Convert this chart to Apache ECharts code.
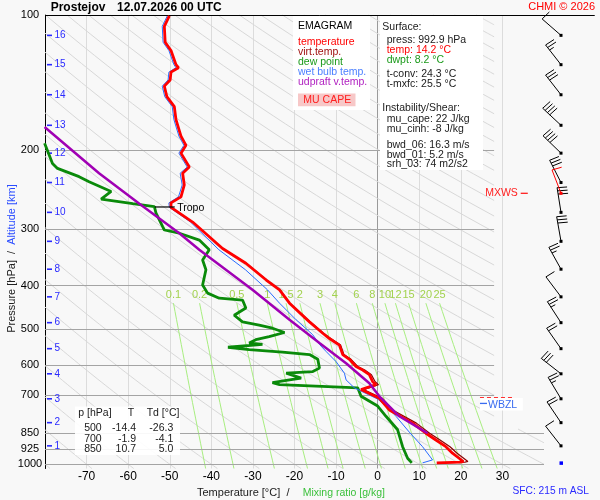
<!DOCTYPE html>
<html>
<head>
<meta charset="utf-8">
<script src="https://cdn.jsdelivr.net/npm/echarts@6/dist/echarts.min.js"></script>
<style>
html, body { margin: 0; padding: 0; background: #f8f8f8; }
#main { width: 600px; height: 500px; }
</style>
</head>
<body>
<div id="main"></div>
<script>
// ---- sounding data (pressure hPa / temperature degC) ----
var tempP = [992.9, 989, 986, 945, 914, 883, 853, 810, 757, 713, 682, 665, 655, 632, 617, 606, 584, 570, 543, 525, 511, 482, 438, 409, 389, 357, 331, 289, 268, 262, 254, 239, 225, 218, 203, 195, 186, 171, 160, 152, 144, 139.5, 134, 131, 129, 120, 115, 106, 100.5];
var tempT = [14.2, 19.8, 20.6, 18.0, 16.4, 14.0, 11.6, 8.4, 2.8, 0.4, -4.0, -0.4, -1.2, -2.0, -3.6, -5.2, -6.8, -8.4, -9.2, -11.6, -13.2, -16.4, -21.2, -23.6, -26.8, -31.7, -37.3, -44.5, -49.7, -49.7, -47.3, -46.5, -46.9, -45.3, -47.3, -46.1, -47.3, -48.5, -48.9, -50.7, -51.3, -49.9, -49.7, -47.9, -48.5, -49.7, -51.1, -51.3, -50.1];

var virtP = [992.9, 989, 986, 945, 914, 883, 853, 810, 757, 713, 682, 665, 655, 632, 617, 606, 584, 570, 543, 525, 511, 482, 438, 409, 389, 357, 331];
var virtT = [15.3, 21.0, 21.7, 19.1, 17.4, 15.0, 12.5, 9.3, 3.6, 1.1, -3.4, 0.2, -0.6, -1.5, -3.1, -4.8, -6.4, -8.1, -8.9, -11.3, -13.0, -16.2, -21.1, -23.5, -26.7, -31.6, -37.2];

var dewP = [992.9, 970, 914, 838, 782, 742, 706, 676, 674, 665, 658, 649, 643, 627, 622, 611, 584, 570, 563, 556, 549, 541, 537, 528, 520, 509, 498, 490, 482, 466, 449, 431, 427, 416, 399, 369, 351, 333, 317, 306, 301, 296, 276, 267, 263, 257, 247, 235, 229, 219.5, 214, 193];
var dewT = [8.2, 7.2, 6.0, 4.8, 2.0, 0.0, -4.0, -4.8, -7.6, -23.6, -25.3, -21.2, -18.4, -22.0, -15.6, -14.0, -14.4, -16.4, -22.9, -30.9, -36.0, -27.7, -30.9, -29.3, -26.1, -22.4, -25.3, -28.5, -32.5, -34.5, -31.7, -32.5, -38.1, -40.9, -42.1, -41.3, -42.1, -40.5, -42.9, -47.7, -51.3, -51.7, -53.3, -53.7, -58.9, -66.5, -64.1, -69.4, -71.8, -77.0, -78.2, -80.1];

var wetP = [992.9, 978, 914, 848, 782, 742, 716, 700, 676, 649, 627, 591, 561, 541, 515, 507, 477, 438, 409, 369, 333, 289, 268, 262, 254, 239, 225, 218, 203, 195, 186, 171, 160, 152, 144, 139.5, 134, 131, 129, 120, 115, 106, 100.5];
var wetT = [10.8, 13.2, 10.8, 7.6, 4.4, 2.0, 0.0, -2.2, -5.6, -7.6, -8.0, -10.0, -12.4, -14.0, -15.6, -16.4, -19.6, -23.6, -26.5, -31.8, -38.2, -45.0, -50.1, -50.2, -47.9, -47.0, -47.5, -45.8, -47.8, -46.6, -47.8, -49.0, -49.4, -51.2, -51.8, -50.4, -50.2, -48.5, -49.0, -50.2, -51.6, -51.8, -50.6];

var updP = [853, 782, 706, 660, 596, 537, 477, 409, 333, 306, 263, 225, 177.6];
var updT = [12.0, 5.2, 0.4, -2.0, -7.6, -14.0, -21.2, -30.1, -42.9, -47.7, -57.3, -67.0, -80.1];

// ---- wind profile at the km levels (direction deg, speed kt) ----
var kmLevels = [1, 2, 3, 4, 5, 6, 7, 8, 9, 10, 11, 12, 13, 14, 15, 16];
var kmP = [910, 808, 715, 629, 553, 484, 424, 368, 319, 275, 236, 203, 176, 150.5, 129, 111];
var windDir = [322, 326, 329, 308, 325, 327, 323, 331, 350, 351, 333, 314, 313, 322, 322, 311];
var windSpd = [10, 20, 25, 30, 20, 25, 10, 25, 30, 30, 30, 40, 40, 30, 25, 10];
var mxwsP = 249.4, mxwsDir = 339, mxwsSpd = 10;
var sfcP = 992.9;

// ---- levels marked on the chart ----
var tropoP = 267.5;
var fzlP = 711;
var wbzlP = 734;

// ---- diagram background ----
var isobarP = [100, 200, 300, 400, 500, 600, 700, 850, 925, 1000];
var tempTicks = [-80, -70, -60, -50, -40, -30, -20, -10, 0, 10, 20, 30, 40];
var dryAdiabatC = [-80, -70, -60, -50, -40, -30, -20, -10, 0, 10, 20, 30, 40, 50, 60, 70, 80, 90, 100, 110, 120, 130, 140, 150, 160, 170, 180, 190, 200, 210, 220, 230, 240, 250, 260, 270, 280, 290, 300, 310, 320, 330];
var mixW = [0.1, 0.2, 0.5, 1, 1.5, 2, 3, 4, 6, 8, 10, 12, 15, 20, 25];

// ---- text blocks ----
var legendLabels = ['temperature', 'virt.temp.', 'dew point', 'wet bulb temp.', 'udpraft v.temp.'];
var tableP = [500, 700, 850];
var tableT = [-14.4, -1.9, 10.7];
var tableTd = [-26.3, -4.1, 5.0];

var FONT = '"Liberation Sans", Arial, sans-serif';
function fnt(sz, bold) { return (bold ? 'bold ' : '') + sz + 'px ' + FONT; }
function txt(x, y, s, color, sz, align, bold) {
    return {
        type: 'text', x: x, y: y, z: 100, silent: true,
        style: { text: s, fill: color || '#202020', font: fnt(sz || 10.5, bold),
                 textAlign: align || 'left', textVerticalAlign: 'middle',
                 align: align || 'left', verticalAlign: 'middle' }
    };
}
function pairs(xs, ys) {
    var out = [];
    for (var i = 0; i < xs.length; i++) out.push([ys[i], xs[i]]);
    return out;
}
function mixTd(w, p) {
    var e = w * p / (622 + w);
    var a = Math.log(e / 6.112);
    return 243.5 * a / (17.67 - a);
}

var chart = echarts.init(document.getElementById('main'));

var graphic = [
    txt(50.7, 7.5, 'Prostejov', '#000', 12, 'left', true),
    txt(117, 7.5, '12.07.2026 00 UTC', '#000', 12, 'left', true),
    txt(595, 7, 'CHMI \u00a9 2026', '#ff0000', 11, 'right'),
    // legend
    { type: 'rect', z: 99, silent: true, shape: { x: 293, y: 16, width: 77, height: 94 }, style: { fill: '#ffffff' } },
    txt(298, 26, 'EMAGRAM', '#000', 10.5),
    txt(298, 42, legendLabels[0], '#ff0000'),
    txt(298, 52, legendLabels[1], '#a01010'),
    txt(298, 61.7, legendLabels[2], '#1a9a1a'),
    txt(298, 71.7, legendLabels[3], '#4a7fff'),
    txt(298, 81.7, legendLabels[4], '#b020c0'),
    { type: 'rect', z: 99, silent: true, shape: { x: 298, y: 93.5, width: 57.5, height: 12.7 }, style: { fill: '#f7c8c8' } },
    txt(303.3, 100, 'MU CAPE', '#ff2020'),
    // surface / instability box
    { type: 'rect', z: 99, silent: true, shape: { x: 380, y: 16, width: 103, height: 154 }, style: { fill: '#ffffff' } },
    txt(382.3, 27.3, 'Surface:'),
    txt(386.7, 40, 'press: 992.9 hPa'),
    txt(386.7, 50, 'temp: 14.2 \u00b0C', '#ff0000'),
    txt(386.7, 60, 'dwpt: 8.2 \u00b0C', '#1a9a1a'),
    txt(386.7, 74, 't-conv: 24.3 \u00b0C'),
    txt(386.7, 84.3, 't-mxfc: 25.5 \u00b0C'),
    txt(382.3, 108.3, 'Instability/Shear:'),
    txt(386.7, 119.3, 'mu_cape: 22 J/kg'),
    txt(386.7, 129.3, 'mu_cinh: -8 J/kg'),
    txt(386.7, 145, 'bwd_06: 16.3 m/s'),
    txt(386.7, 155, 'bwd_01: 5.2 m/s'),
    txt(386.7, 164.3, 'srh_03: 74 m2/s2'),
    // table of standard levels
    { type: 'rect', z: 99, silent: true, shape: { x: 75, y: 406.5, width: 105, height: 48.5 }, style: { fill: '#ffffff', opacity: 0.92 } },
    txt(78.3, 413.3, 'p [hPa]'),
    txt(127.7, 413.3, 'T'),
    txt(146.7, 413.3, 'Td [\u00b0C]'),
    // axis titles
    txt(197, 493, 'Temperature [\u00b0C]  /', '#202020', 11),
    txt(302.7, 493, 'Mixing ratio [g/kg]', '#3cc03c', 10.5),
    {
        type: 'text', x: 12, y: 258.5, rotation: Math.PI / 2, z: 100, silent: true,
        style: {
            text: '{a|Pressure [hPa]  /  }{b|Altitude [km]}',
            textAlign: 'center', textVerticalAlign: 'middle', align: 'center', verticalAlign: 'middle',
            rich: { a: { fill: '#202020', font: fnt(11) }, b: { fill: '#2a4cff', font: fnt(11) } }
        }
    },
    txt(589, 490.7, 'SFC: 215 m ASL', '#2a2aff', 10.2, 'right')
];
for (var r = 0; r < tableP.length; r++) {
    var ry = 428.3 + r * 10.4;
    graphic.push(txt(101.7, ry, String(tableP[r]), '#202020', 10.5, 'right'));
    graphic.push(txt(136, ry, tableT[r].toFixed(1), '#202020', 10.5, 'right'));
    graphic.push(txt(173.3, ry, tableTd[r].toFixed(1), '#202020', 10.5, 'right'));
}

function barb(x, y, dir, spd, color) {
    var rad = dir * Math.PI / 180;
    var ux = Math.sin(rad), uy = -Math.cos(rad);
    var L = 25;
    var ex = x + L * ux, ey = y + L * uy;
    var a = 95 * Math.PI / 180;
    var bx = ux * Math.cos(a) - uy * Math.sin(a);
    var by = ux * Math.sin(a) + uy * Math.cos(a);
    var kids = [{ type: 'line', shape: { x1: x, y1: y, x2: ex, y2: ey }, style: { stroke: color, lineWidth: 1 } }];
    var n10 = Math.floor(spd / 10), n5 = Math.round((spd % 10) / 5);
    var k = 0, i, sx, sy;
    for (i = 0; i < n10; i++) {
        sx = ex - k * 3.2 * ux; sy = ey - k * 3.2 * uy;
        kids.push({ type: 'line', shape: { x1: sx, y1: sy, x2: sx + 10 * bx, y2: sy + 10 * by }, style: { stroke: color, lineWidth: 1 } });
        k++;
    }
    if (n5) {
        if (k === 0) k = 1;
        sx = ex - k * 3.2 * ux; sy = ey - k * 3.2 * uy;
        kids.push({ type: 'line', shape: { x1: sx, y1: sy, x2: sx + 5 * bx, y2: sy + 5 * by }, style: { stroke: color, lineWidth: 1 } });
    }
    return kids;
}

var gridColors = tempTicks.map(function (t) {
    if (t === 0) return '#9a9a9a';
    if (t === 40) return 'rgba(0,0,0,0)';
    return '#dcdcdc';
});

var option = {
    animation: false,
    backgroundColor: '#f8f8f8',
    grid: [
        { left: 45, top: 15, width: 499, height: 453.5 },
        { left: 540, top: 15, width: 42, height: 453.5 }
    ],
    xAxis: [
        {
            type: 'value', gridIndex: 0, min: -80, max: 40, interval: 10,
            axisLine: { show: false, onZero: false }, axisTick: { show: false },
            axisLabel: {
                margin: 2, fontSize: 12, color: '#000', fontFamily: FONT,
                showMinLabel: true, showMaxLabel: true,
                formatter: function (v) { return (v === -80 || v === 40) ? '' : String(v); }
            },
            splitLine: { show: true, lineStyle: { color: gridColors, width: 1 } }
        },
        { type: 'value', gridIndex: 1, min: 0, max: 1, show: false }
    ],
    yAxis: [
        {
            type: 'log', logBase: 10, gridIndex: 0, min: 100, max: 1022, inverse: true,
            axisLine: { show: true, onZero: false, lineStyle: { color: '#000', width: 1 } },
            axisTick: { show: false }, axisLabel: { show: false }, splitLine: { show: false }
        },
        { type: 'log', logBase: 10, gridIndex: 1, min: 100, max: 1022, inverse: true, show: false }
    ],
    graphic: graphic,
    series: [
        {   // dry adiabats
            type: 'custom', xAxisIndex: 0, yAxisIndex: 0, z: 1, silent: true, data: [[0, 500]],
            renderItem: function (params, api) {
                var kids = [];
                dryAdiabatC.forEach(function (tc) {
                    var thK = tc + 273.15;
                    var pl = 1000 * Math.pow(193.15 / thK, 3.5);
                    var r28 = 1000 * Math.pow(301.15 / thK, 3.5);
                    var r40 = 1000 * Math.pow(313.15 / thK, 3.5);
                    function seg(pa, pb) {
                        if (pb <= pa) return;
                        var pts = [];
                        for (var i = 0; i <= 30; i++) {
                            var p = pa * Math.pow(pb / pa, i / 30);
                            var t = thK * Math.pow(p / 1000, 2 / 7) - 273.15;
                            pts.push(api.coord([t, p]));
                        }
                        kids.push({ type: 'polyline', shape: { points: pts }, style: { stroke: '#d8d8d8', lineWidth: 1, fill: null } });
                    }
                    seg(Math.max(100, pl), Math.min(835, r28));
                    seg(Math.max(835, pl), Math.min(1022, r40));
                });
                return { type: 'group', children: kids };
            }
        },
        {   // mixing ratio lines
            type: 'custom', xAxisIndex: 0, yAxisIndex: 0, z: 2, silent: true, data: [[0, 500]],
            renderItem: function (params, api) {
                var kids = [];
                mixW.forEach(function (w) {
                    var pts = [];
                    for (var i = 0; i <= 20; i++) {
                        var p = 438 * Math.pow(1022 / 438, i / 20);
                        pts.push(api.coord([mixTd(w, p), p]));
                    }
                    kids.push({ type: 'polyline', shape: { points: pts }, style: { stroke: '#a8ee80', lineWidth: 1, fill: null } });
                    var lp = api.coord([mixTd(w, 438), 420]);
                    kids.push({ type: 'text', style: { x: lp[0], y: lp[1], text: String(w), fill: '#a2d24e', font: fnt(11),
                        textAlign: 'center', textVerticalAlign: 'middle', align: 'center', verticalAlign: 'middle' } });
                });
                return { type: 'group', children: kids };
            }
        },
        {   // isobars + pressure labels
            type: 'custom', xAxisIndex: 0, yAxisIndex: 0, z: 3, silent: true,
            data: isobarP.map(function (p) { return [-80, p]; }),
            renderItem: function (params, api) {
                var p = api.value(1);
                var end = p === 100 ? 52.2 : (p >= 850 ? 40 : 28);
                var a = api.coord([-80, p]), b = api.coord([end, p]);
                var yy = Math.round(a[1]) + 0.5;
                return { type: 'group', children: [
                    { type: 'line', shape: { x1: a[0], y1: yy, x2: b[0], y2: yy }, style: { stroke: p === 100 ? '#000' : '#a4a4a4', lineWidth: 1 } },
                    { type: 'text', style: { x: a[0] - 15, y: a[1], text: String(p), fill: '#000', font: fnt(11),
                        textAlign: 'center', textVerticalAlign: 'middle', align: 'center', verticalAlign: 'middle' } }
                ] };
            }
        },
        {   // altitude labels
            type: 'custom', xAxisIndex: 0, yAxisIndex: 0, z: 4, silent: true,
            data: kmP.map(function (p, i) { return [-80, p, kmLevels[i]]; }),
            renderItem: function (params, api) {
                var a = api.coord([-80, api.value(1)]);
                return { type: 'group', children: [
                    { type: 'line', shape: { x1: a[0] + 2, y1: a[1], x2: a[0] + 7, y2: a[1] }, style: { stroke: '#2a2aff', lineWidth: 1.6 } },
                    { type: 'text', style: { x: a[0] + 9.5, y: a[1], text: String(api.value(2)), fill: '#2a2aff', font: fnt(10),
                        textAlign: 'left', textVerticalAlign: 'middle', align: 'left', verticalAlign: 'middle' } }
                ] };
            }
        },
        { name: 'dew point', type: 'line', xAxisIndex: 0, yAxisIndex: 0, z: 5, showSymbol: false, silent: true,
          data: pairs(dewP, dewT), lineStyle: { color: '#0a8a0a', width: 2.8 } },
        { name: 'wet bulb temp.', type: 'line', xAxisIndex: 0, yAxisIndex: 0, z: 6, showSymbol: false, silent: true,
          data: pairs(wetP, wetT), lineStyle: { color: '#2a6cff', width: 1 } },
        { name: 'virt.temp.', type: 'line', xAxisIndex: 0, yAxisIndex: 0, z: 7, showSymbol: false, silent: true,
          data: pairs(virtP, virtT), lineStyle: { color: '#8a0000', width: 1.2 } },
        { name: 'temperature', type: 'line', xAxisIndex: 0, yAxisIndex: 0, z: 8, showSymbol: false, silent: true,
          data: pairs(tempP, tempT), lineStyle: { color: '#ff0000', width: 2.8 } },
        { name: 'udpraft v.temp.', type: 'line', xAxisIndex: 0, yAxisIndex: 0, z: 9, showSymbol: false, silent: true,
          data: pairs(updP, updT), lineStyle: { color: '#a000b4', width: 2.5 } },
        {   // tropopause, MXWS, FZL / WBZL marks
            type: 'custom', xAxisIndex: 0, yAxisIndex: 0, z: 20, silent: true, data: [[0, 500]],
            renderItem: function (params, api) {
                var t0 = api.coord([-53.6, tropoP]), t1 = api.coord([-48.8, tropoP]);
                var m0 = api.coord([33.7, mxwsP]), m1 = api.coord([34.4, mxwsP]), m2 = api.coord([36.1, mxwsP]);
                var f0 = api.coord([24.6, fzlP]), f1 = api.coord([32.3, fzlP]);
                var w0 = api.coord([24.6, wbzlP]), w1 = api.coord([34.9, wbzlP]), w2 = api.coord([26.3, wbzlP]);
                return { type: 'group', children: [
                    { type: 'line', shape: { x1: t0[0], y1: t0[1], x2: t1[0], y2: t1[1] }, style: { stroke: '#000', lineWidth: 1.2 } },
                    { type: 'text', style: { x: t1[0] + 2.5, y: t1[1] + 1.5, text: 'Tropo', fill: '#000', font: fnt(10.5),
                        textAlign: 'left', textVerticalAlign: 'middle', align: 'left', verticalAlign: 'middle' } },
                    { type: 'text', style: { x: m0[0], y: m0[1], text: 'MXWS', fill: '#ff2020', font: fnt(10.5),
                        textAlign: 'right', textVerticalAlign: 'middle', align: 'right', verticalAlign: 'middle' } },
                    { type: 'line', shape: { x1: m1[0], y1: m1[1], x2: m2[0], y2: m2[1] }, style: { stroke: '#ff2020', lineWidth: 1.3 } },
                    { type: 'line', shape: { x1: f0[0], y1: f0[1], x2: f1[0], y2: f1[1] }, style: { stroke: '#ff3030', lineWidth: 1.3, lineDash: [4, 3] } },
                    { type: 'rect', shape: { x: w0[0], y: w0[1] - 6, width: w1[0] - w0[0], height: 12.5 }, style: { fill: '#ffffff' } },
                    { type: 'line', shape: { x1: w0[0], y1: w0[1] - 0.5, x2: w2[0], y2: w0[1] - 0.5 }, style: { stroke: '#3a6cf0', lineWidth: 1.3 } },
                    { type: 'text', style: { x: w2[0] + 1, y: w0[1] + 1, text: 'WBZL', fill: '#3a6cf0', font: fnt(10.5),
                        textAlign: 'left', textVerticalAlign: 'middle', align: 'left', verticalAlign: 'middle' } }
                ] };
            }
        },
        {   // wind barbs
            type: 'custom', xAxisIndex: 1, yAxisIndex: 1, z: 10, silent: true,
            data: kmP.map(function (p, i) { return [0.5, p, windDir[i], windSpd[i]]; }),
            renderItem: function (params, api) {
                var c = api.coord([0.5, api.value(1)]);
                var kids = barb(c[0], c[1], api.value(2), api.value(3), '#000');
                kids.push({ type: 'rect', shape: { x: c[0] - 1.5, y: c[1] - 1.5, width: 3, height: 3 }, style: { fill: '#000' } });
                return { type: 'group', children: kids };
            }
        },
        {   // max wind + surface
            type: 'custom', xAxisIndex: 1, yAxisIndex: 1, z: 11, silent: true, data: [[0.5, mxwsP]],
            renderItem: function (params, api) {
                var c = api.coord([0.5, mxwsP]);
                var s = api.coord([0.5, sfcP]);
                var kids = barb(c[0], c[1], mxwsDir, mxwsSpd, '#ff0000');
                kids.push({ type: 'rect', shape: { x: c[0] - 1.5, y: c[1] - 1.5, width: 3, height: 3 }, style: { fill: '#ff0000' } });
                kids.push({ type: 'rect', shape: { x: s[0] - 1.5, y: s[1] - 1.5, width: 3.5, height: 3.5 }, style: { fill: '#0000ff' } });
                return { type: 'group', children: kids };
            }
        }
    ]
};
chart.setOption(option);
</script>
</body>
</html>
